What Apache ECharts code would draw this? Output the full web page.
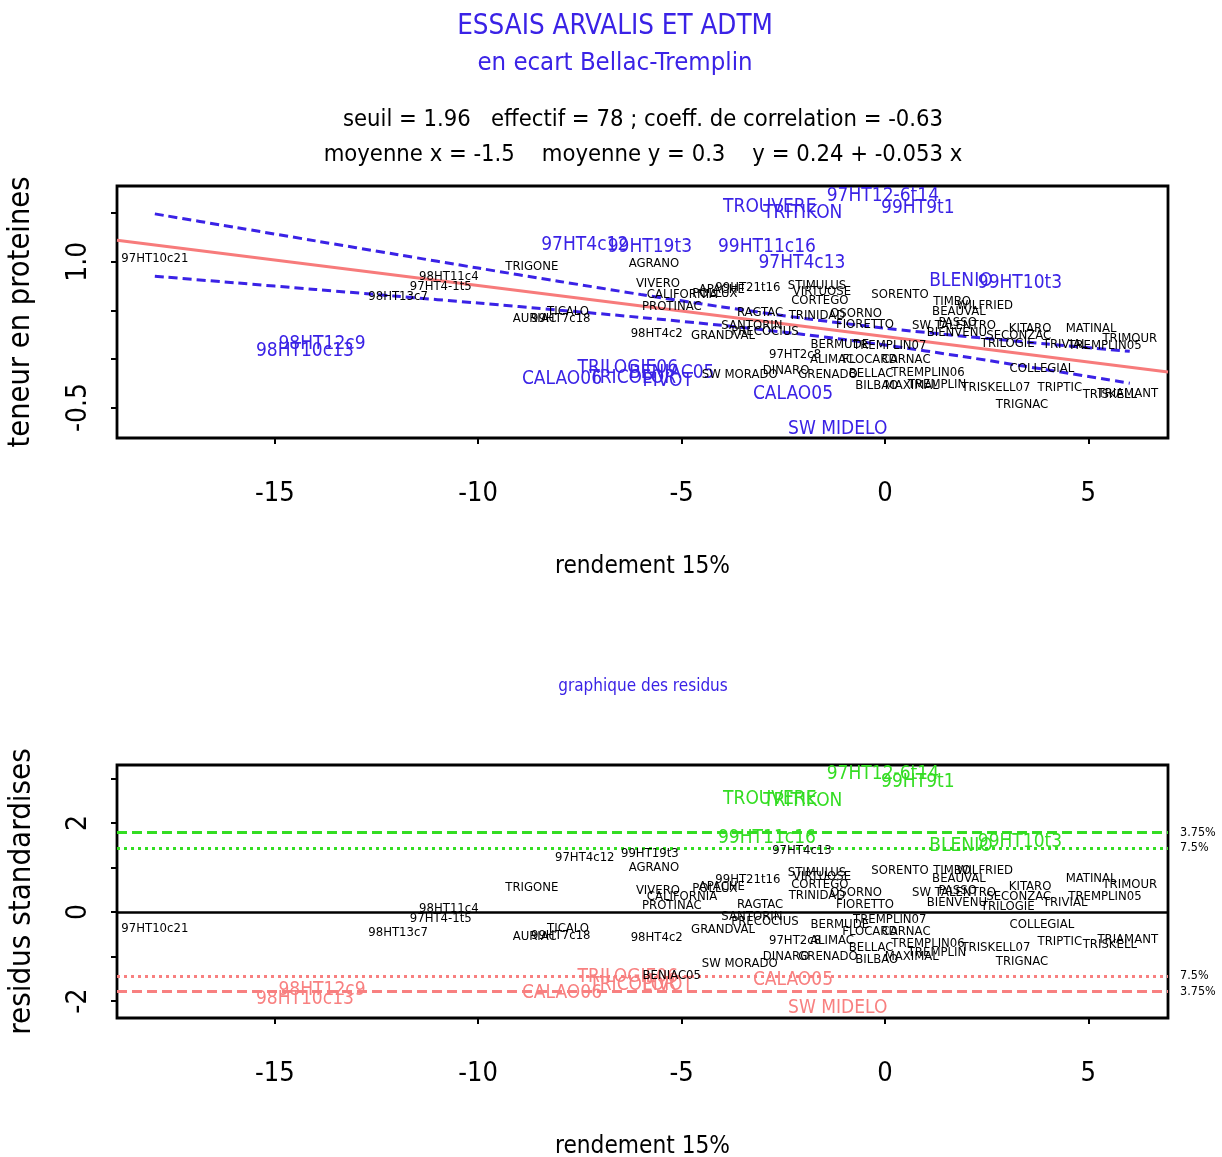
<!DOCTYPE html>
<html>
<head>
<meta charset="utf-8">
<script src="https://cdn.jsdelivr.net/npm/echarts@6/dist/echarts.min.js"></script>
<style>html,body{margin:0;padding:0;background:#fff}#c{width:1222px;height:1157px}</style>
</head>
<body>
<div id="c"></div>
<script>
// ---------- data ----------
const names = ["97HT10c21","98HT11c4","97HT4-1t5","98HT13c7","98HT12c9","98HT10c13","TRIGONE","97HT4c12","99HT19t3","AGRANO",
"VIVERO","CALIFORNIA","PROTINAC","TICALO","AURIAC","99HT7c18","98HT4c2","GRANDVAL","CALAO06","TRILOGIE06",
"PIVOT","TRICOLOR","BENIAC05","SW MORADO","CALAO05","SW MIDELO","TROUVERE","TRITIKON","97HT12-6t14","99HT9t1",
"99HT11c16","97HT4c13","BLENIO","99HT10t3","STIMULUS","VIRTUOSE","CORTEGO","SORENTO","OSORNO","FIORETTO",
"SW TALENTRO","TIMBO","BEAUVAL","WILFRIED","PASSO","BIENVENU","SECONZAC","KITARO","TRILOGIE","TRIVIAL",
"TREMPLIN05","MATINAL","TRIMOUR","COLLEGIAL","TRISKELL07","TRIPTIC","TRISKELL","TRIAMANT","TRIGNAC","TREMPLIN07",
"TREMPLIN06","TREMPLIN","CARNAC","BELLAC","BILBAO","MAXIMAL","ALIMAC","97HT2c8","DINARO","GRENADO",
"FLOCARD","APACHE","99HT21t16","POLLUX","SANTORIN","PRECOCIUS","RAGTAC","TRINIDAD","BERMUDE"];

const rendement = [-17.95,-10.72,-10.92,-11.97,-13.84,-14.26,-8.68,-7.38,-5.78,-5.68,
-5.58,-4.99,-5.24,-7.79,-8.61,-7.97,-5.61,-3.98,-7.94,-6.32,
-5.34,-6.20,-5.24,-3.57,-2.26,-1.16,-2.83,-2.02,-0.05,0.81,
-2.90,-2.04,1.87,3.32,-1.67,-1.55,-1.60,0.37,-0.71,-0.49,
1.70,1.65,1.82,2.46,1.79,1.77,3.29,3.57,3.02,4.43,
5.41,5.07,6.02,3.86,2.73,4.30,5.53,5.97,3.37,0.12,
1.06,1.28,0.52,-0.34,-0.20,0.66,-1.30,-2.21,-2.43,-1.40,
-0.37,-4.01,-3.37,-4.18,-3.27,-2.95,-3.07,-1.67,-1.11];

const proteines = [1.031,0.845,0.742,0.639,0.155,0.082,0.948,1.175,1.155,0.979,
0.773,0.660,0.536,0.485,0.412,0.412,0.258,0.237,-0.206,-0.093,
-0.227,-0.196,-0.144,-0.165,-0.361,-0.722,1.567,1.505,1.680,1.557,
1.155,0.990,0.804,0.784,0.753,0.691,0.598,0.660,0.464,0.351,
0.340,0.588,0.485,0.546,0.371,0.268,0.237,0.309,0.155,0.144,
0.134,0.309,0.206,-0.103,-0.299,-0.299,-0.371,-0.361,-0.474,0.134,
-0.144,-0.268,-0.010,-0.155,-0.278,-0.278,-0.010,0.041,-0.124,-0.165,
-0.010,0.711,0.732,0.670,0.340,0.278,0.474,0.443,0.144];

const residus = [-0.38,0.07,-0.16,-0.47,-1.75,-1.96,0.54,1.21,1.30,0.99,
0.49,0.34,0.14,-0.38,-0.56,-0.52,-0.58,-0.40,-1.82,-1.46,
-1.64,-1.64,-1.42,-1.17,-1.53,-2.16,2.54,2.49,3.10,2.92,
1.66,1.37,1.48,1.57,0.88,0.79,0.61,0.92,0.43,0.16,
0.43,0.92,0.76,0.92,0.49,0.22,0.34,0.56,0.11,0.22,
0.34,0.74,0.61,-0.29,-0.81,-0.67,-0.74,-0.61,-1.12,-0.18,
-0.70,-0.92,-0.45,-0.81,-1.08,-1.01,-0.65,-0.65,-1.01,-1.01,
-0.45,0.58,0.72,0.52,-0.11,-0.22,0.16,0.36,-0.29];

// regression line (ends at the plot edges) and confidence band
const regLineX = [-18.88, 6.96];
const regLineY = [1.221, -0.135];
const bandX     = [-17.95,-16,-14,-12,-10,-8,-6,-4,-2,0,2,4,6.02];
const bandUpper = [1.493,1.356,1.215,1.075,0.935,0.798,0.663,0.535,0.418,0.317,0.231,0.153,0.078];
const bandLower = [0.851,0.784,0.715,0.645,0.575,0.502,0.427,0.345,0.252,0.143,0.019,-0.113,-0.250];

// residual thresholds
const threshValues = [1.78, 1.44, -1.44, -1.78];
const threshLabels = ["3.75%", "7.5%", "7.5%", "3.75%"];

// axis ticks
const xTicks = [-15,-10,-5,0,5];
const yTopTicks = [-0.5,0,0.5,1,1.5];
const yTopLabels = [-0.5,1];
const yBotTicks = [-2,-1,0,1,2,3];
const yBotLabels = [-2,0,2];

// ---------- styling ----------
const FONT = "'DejaVu Sans Condensed','Liberation Sans',sans-serif";
const BLUE = '#3a22e6', GREEN = '#33dd22', PINK = '#f88080', SALMON = '#f77b7b';
const X_MIN = -18.88, X_MAX = 6.96;

const topData = names.map((n, i) => {
  const flagged = Math.abs(residus[i]) >= 1.2;
  return {name: n, value: [rendement[i], proteines[i]],
    label: {color: flagged ? BLUE : '#000', fontSize: flagged ? 19 : 13}};
});
const botData = names.map((n, i) => {
  const r = residus[i];
  const col = r > 1.44 ? GREEN : (r < -1.44 ? PINK : '#000');
  return {name: n, value: [rendement[i], r],
    label: {color: col, fontSize: col === '#000' ? 13 : 19}};
});

const threshColors = threshValues.map(v => v > 0 ? GREEN : PINK);
const threshTypes = threshValues.map(v => Math.abs(v) > 1.6 ? [10, 5] : [3, 4]);

const pointLabel = {show: true, position: 'inside', formatter: '{b}', fontFamily: FONT,
  align: 'center', verticalAlign: 'middle', textBorderWidth: 0, textBorderColor: 'transparent',
  textShadowBlur: 0, opacity: 1};

function xAxis(gi) {
  return {type: 'value', gridIndex: gi, min: X_MIN, max: X_MAX,
    axisLine: {show: false, onZero: false}, splitLine: {show: false},
    axisTick: {show: true, length: 6, customValues: xTicks, lineStyle: {color: '#000', width: 2}},
    axisLabel: {customValues: xTicks, fontSize: 27, color: '#000', margin: 42, fontFamily: FONT},
    name: 'rendement 15%', nameLocation: 'middle', nameGap: 117,
    nameTextStyle: {fontSize: 24.2, color: '#000', fontFamily: FONT}};
}

const chart = echarts.init(document.getElementById('c'), null, {renderer: 'canvas'});
chart.setOption({
  animation: false,
  backgroundColor: '#fff',
  title: [
    {text: 'ESSAIS ARVALIS ET ADTM', left: 610, top: 8, textAlign: 'center', textStyle: {color: BLUE, fontSize: 27.5, fontWeight: 'normal', fontFamily: FONT}},
    {text: 'en ecart Bellac-Tremplin', left: 610, top: 45, textAlign: 'center', textStyle: {color: BLUE, fontSize: 25.5, fontWeight: 'normal', fontFamily: FONT}},
    {text: 'seuil = 1.96   effectif = 78 ; coeff. de correlation = -0.63', left: 638, top: 103, textAlign: 'center', textStyle: {color: '#000', fontSize: 23.6, fontWeight: 'normal', fontFamily: FONT}},
    {text: 'moyenne x = -1.5    moyenne y = 0.3    y = 0.24 + -0.053 x', left: 638, top: 138, textAlign: 'center', textStyle: {color: '#000', fontSize: 23.6, fontWeight: 'normal', fontFamily: FONT}},
    {text: 'graphique des residus', left: 638, top: 673, textAlign: 'center', textStyle: {color: BLUE, fontSize: 17, fontWeight: 'normal', fontFamily: FONT}}
  ],
  grid: [
    {left: 117, top: 186, width: 1051, height: 252, show: true, borderColor: '#000', borderWidth: 2.8, backgroundColor: 'transparent', containLabel: false, outerBoundsMode: 'none'},
    {left: 117, top: 765, width: 1051, height: 253, show: true, borderColor: '#000', borderWidth: 2.8, backgroundColor: 'transparent', containLabel: false, outerBoundsMode: 'none'}
  ],
  xAxis: [xAxis(0), xAxis(1)],
  yAxis: [
    {type: 'value', gridIndex: 0, min: -0.814, max: 1.78,
      axisLine: {show: false, onZero: false}, splitLine: {show: false},
      axisTick: {show: true, length: 6, customValues: yTopTicks, lineStyle: {color: '#000', width: 2}},
      axisLabel: {customValues: yTopLabels, rotate: 90, fontSize: 28, color: '#000', margin: 24, fontFamily: FONT,
        formatter: v => v.toFixed(1)},
      name: 'teneur en proteines', nameLocation: 'middle', nameRotate: 90, nameGap: 80,
      nameTextStyle: {fontSize: 30.5, color: '#000', fontFamily: FONT}},
    {type: 'value', gridIndex: 1, min: -2.38, max: 3.30,
      axisLine: {show: false, onZero: false}, splitLine: {show: false},
      axisTick: {show: true, length: 6, customValues: yBotTicks, lineStyle: {color: '#000', width: 2}},
      axisLabel: {customValues: yBotLabels, rotate: 90, fontSize: 28, color: '#000', margin: 24, fontFamily: FONT,
        formatter: v => String(v)},
      name: 'residus standardises', nameLocation: 'middle', nameRotate: 90, nameGap: 80,
      nameTextStyle: {fontSize: 31, color: '#000', fontFamily: FONT}}
  ],
  series: [
    {type: 'line', xAxisIndex: 0, yAxisIndex: 0, symbol: 'none', silent: true,
      data: regLineX.map((x, i) => [x, regLineY[i]]),
      lineStyle: {color: SALMON, width: 3}},
    {type: 'line', xAxisIndex: 0, yAxisIndex: 0, symbol: 'none', silent: true, smooth: 0.3,
      data: bandX.map((x, i) => [x, bandUpper[i]]),
      lineStyle: {color: BLUE, width: 3, type: [9, 5]}},
    {type: 'line', xAxisIndex: 0, yAxisIndex: 0, symbol: 'none', silent: true, smooth: 0.3,
      data: bandX.map((x, i) => [x, bandLower[i]]),
      lineStyle: {color: BLUE, width: 3, type: [9, 5]}},
    {type: 'scatter', xAxisIndex: 0, yAxisIndex: 0, symbolSize: 1, itemStyle: {color: 'rgba(0,0,0,0)'},
      data: topData, z: 5, label: pointLabel, emphasis: {disabled: true}},
    {type: 'scatter', xAxisIndex: 1, yAxisIndex: 1, symbolSize: 1, itemStyle: {color: 'rgba(0,0,0,0)'},
      data: botData, z: 5, label: pointLabel, emphasis: {disabled: true},
      markLine: {silent: true, symbol: 'none', animation: false,
        data: [{yAxis: 0, lineStyle: {color: '#000', width: 2.5, type: 'solid'}, label: {show: false}}].concat(
          threshValues.map((v, i) => ({yAxis: v,
            lineStyle: {color: threshColors[i], width: 3, type: threshTypes[i]},
            label: {show: true, position: 'end', formatter: threshLabels[i], color: '#000', fontSize: 12.5, fontFamily: FONT, distance: 12}})))
      }}
  ]
});
</script>
</body>
</html>
